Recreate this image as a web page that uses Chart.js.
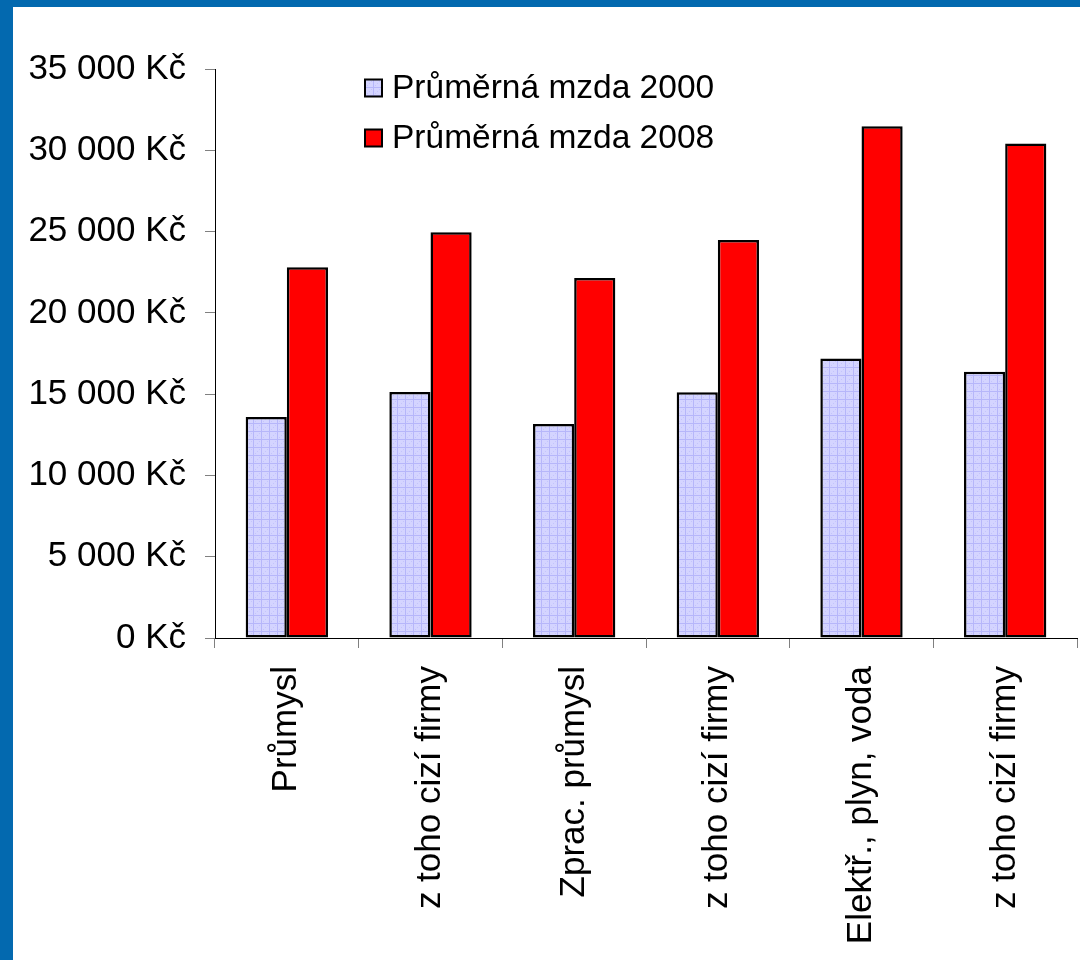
<!DOCTYPE html>
<html>
<head>
<meta charset="utf-8">
<script src="https://cdn.jsdelivr.net/npm/chart.js@4.4.1/dist/chart.umd.min.js"></script>
<style>
  html, body { margin: 0; padding: 0; background: #ffffff; }
  #frame {
    position: absolute; left: 0; top: 0;
    width: 1067px; height: 953px;
    border-top: 7px solid #0369AF;
    border-left: 13px solid #0369AF;
    background: #ffffff;
  }
  #c { display: block; }
</style>
</head>
<body>
<div id="frame"><canvas id="c" width="1067" height="953"></canvas></div>
<script>
const categories = ['Průmysl', 'z toho cizí firmy', 'Zprac. průmysl', 'z toho cizí firmy', 'Elektř., plyn, voda', 'z toho cizí firmy'];
const seriesNames = ['Průměrná mzda 2000', 'Průměrná mzda 2008'];
const wage2000 = [13600, 15130, 13160, 15120, 17200, 16380];
const wage2008 = [22800, 24960, 22140, 24480, 31480, 30420];
const yTickLabels = ['0 Kč', '5 000 Kč', '10 000 Kč', '15 000 Kč', '20 000 Kč', '25 000 Kč', '30 000 Kč', '35 000 Kč'];

const FONT = '"Liberation Sans", Arial, "DejaVu Sans", sans-serif';

function makePattern() {
  const p = document.createElement('canvas');
  p.width = 8; p.height = 8;
  const g = p.getContext('2d');
  g.fillStyle = '#D4D4FF';
  g.fillRect(0, 0, 8, 8);
  g.fillStyle = '#B6B6FA';
  g.fillRect(0, 0, 8, 1);
  g.fillRect(0, 0, 1, 8);
  g.fillStyle = '#C4C4FC';
  g.fillRect(4, 4, 1, 1);
  g.fillRect(2, 6, 1, 1);
  g.fillRect(6, 2, 1, 1);
  return document.getElementById('c').getContext('2d').createPattern(p, 'repeat');
}
const bluePattern = makePattern();

const legendPlugin = {
  id: 'insideLegend',
  afterDraw(chart) {
    const ctx = chart.ctx;
    const a = chart.chartArea;
    const x0 = a.left + 150;
    const ys = [a.top + 19, a.top + 69];
    ctx.save();
    ctx.font = '33.5px ' + FONT;
    ctx.textBaseline = 'middle';
    ctx.textAlign = 'left';
    chart.data.datasets.forEach((ds, i) => {
      const y = ys[i];
      ctx.fillStyle = ds.backgroundColor;
      ctx.fillRect(x0, y - 8.5, 17, 17);
      ctx.lineWidth = 2;
      ctx.strokeStyle = '#000000';
      ctx.strokeRect(x0, y - 8.5, 17, 17);
      ctx.fillStyle = '#000000';
      ctx.fillText(ds.label, x0 + 27, y + 1);
    });
    ctx.restore();
  }
};

new Chart(document.getElementById('c'), {
  type: 'bar',
  data: {
    labels: categories,
    datasets: [
      { label: seriesNames[0], data: wage2000, backgroundColor: bluePattern, borderColor: '#000000', borderWidth: 2.5, borderSkipped: false },
      { label: seriesNames[1], data: wage2008, backgroundColor: '#FF0000', borderColor: '#000000', borderWidth: 2.5, borderSkipped: false }
    ]
  },
  options: {
    responsive: false,
    animation: false,
    devicePixelRatio: 1,
    layout: { padding: { top: 62, right: 3, left: 0, bottom: 0 } },
    datasets: { bar: { categoryPercentage: 0.573, barPercentage: 1.0 } },
    plugins: { legend: { display: false }, tooltip: { enabled: false }, title: { display: false } },
    scales: {
      x: {
        offset: true,
        grid: { display: true, drawOnChartArea: false, drawTicks: true, tickLength: 10, color: '#808080', offset: true },
        border: { display: true, color: '#000000', width: 1 },
        ticks: { color: '#000000', font: { family: FONT, size: 35 }, minRotation: 90, maxRotation: 90, padding: 18, autoSkip: false },
        afterFit(scale) { scale.height = 322; }
      },
      y: {
        min: 0, max: 35000,
        grid: { display: true, drawOnChartArea: false, drawTicks: true, tickLength: 10, color: '#808080' },
        border: { display: true, color: '#000000', width: 1 },
        ticks: {
          stepSize: 5000, color: '#000000', font: { family: FONT, size: 35 }, padding: 19,
          callback: (v, i) => yTickLabels[i]
        },
        afterFit(scale) { scale.width = 202; }
      }
    }
  },
  plugins: [legendPlugin]
});
</script>
</body>
</html>
